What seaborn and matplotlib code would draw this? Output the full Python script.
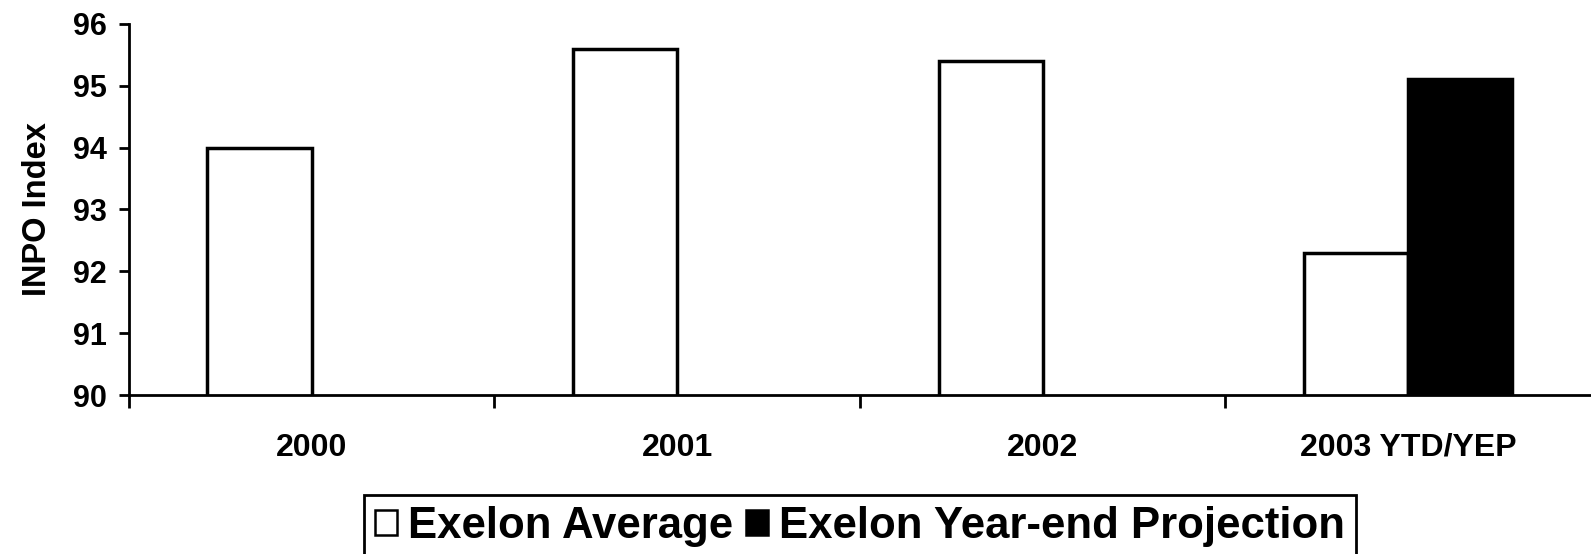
import pandas as pd
import numpy as np
import matplotlib
matplotlib.use("Agg")
import matplotlib.pyplot as plt
import seaborn as sns
from matplotlib.patches import Patch

# data
years = ["2000", "2001", "2002", "2003 YTD/YEP"]
exelon_avg = [94.0, 95.6, 95.4, 92.3]
exelon_proj = [np.nan, np.nan, np.nan, 95.1]
series_names = ["Exelon Average", "Exelon Year-end Projection"]
y_ticks = [90, 91, 92, 93, 94, 95, 96]

# long table for seaborn
df = pd.DataFrame({"year": years, series_names[0]: exelon_avg, series_names[1]: exelon_proj})
df_long = df.melt(id_vars="year", var_name="series", value_name="value").dropna()

sns.set_style("ticks")
plt.rcParams["font.family"] = ["Liberation Sans", "DejaVu Sans"]
plt.rcParams["font.weight"] = "bold"
plt.rcParams["text.color"] = "black"
plt.rcParams["axes.labelcolor"] = "black"
plt.rcParams["xtick.color"] = "black"
plt.rcParams["ytick.color"] = "black"

fig = plt.figure(figsize=(15.91, 5.54), dpi=100)
ax = fig.add_axes([0.081, 0.287, 0.919, 0.670])

sns.barplot(data=df_long, x="year", y="value", hue="series", order=years,
            hue_order=series_names, palette={series_names[0]: "white", series_names[1]: "black"},
            edgecolor="black", linewidth=2.5, width=0.57, legend=False, ax=ax)

ax.set_ylim(90, 96)
ax.set_xlim(-0.5, 3.5)
ax.set_yticks(y_ticks)
ax.set_yticklabels([str(t) for t in y_ticks], fontsize=22, fontweight="bold", color="black")
ax.set_xticks(range(len(years)))
ax.set_xticklabels(years, fontsize=23, fontweight="bold", color="black")
ax.set_xticks([-0.5, 0.5, 1.5, 2.5], minor=True)
ax.tick_params(axis="x", which="major", length=0, pad=27)
ax.tick_params(axis="x", which="minor", length=9, width=2, direction="out", color="black")
ax.tick_params(axis="y", length=7, width=2, direction="out", color="black", pad=9)

ax.set_xlabel("")
ax.set_ylabel("INPO Index", fontsize=23.5, fontweight="bold", labelpad=14, color="black")

sns.despine(ax=ax)
for s in ["left", "bottom"]:
    ax.spines[s].set_linewidth(2)
    ax.spines[s].set_color("black")

# legend below the plot
handles = [Patch(facecolor="white", edgecolor="black", linewidth=1.8, label=series_names[0]),
           Patch(facecolor="black", edgecolor="black", linewidth=1.8, label=series_names[1])]
leg = fig.legend(handles=handles, loc="upper center", bbox_to_anchor=(0.5405, 0.107),
                 ncol=2, frameon=True, fancybox=False, framealpha=1, borderaxespad=0,
                 prop={"size": 31.5, "weight": "bold"}, handlelength=0.5, handleheight=0.5,
                 handletextpad=0.25, columnspacing=0.3, borderpad=0.25, labelcolor="black")
leg.get_frame().set_edgecolor("black")
leg.get_frame().set_linewidth(2)

fig.savefig("out.png", dpi=100)
